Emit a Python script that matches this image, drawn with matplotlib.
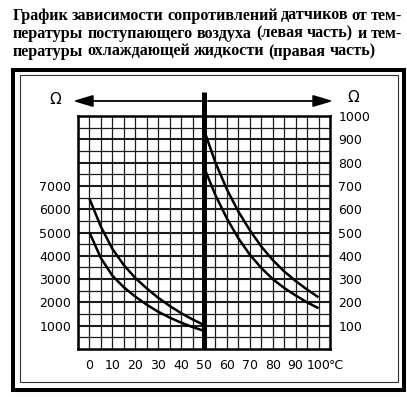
import matplotlib
matplotlib.use('Agg')
import matplotlib.pyplot as plt
import matplotlib.transforms as mtransforms
from matplotlib.patches import Rectangle, FancyArrowPatch

# ---------------- data ----------------
title_lines = [
    "График зависимости сопротивлений датчиков от тем-",
    "пературы поступающего воздуха (левая часть) и тем-",
    "пературы охлаждающей жидкости (правая часть)",
]

air_temp = [0, 5, 10, 15, 20, 25, 30, 35, 40, 45, 50]
air_r_high = [6450, 5250, 4300, 3600, 3050, 2600, 2200, 1850, 1540, 1270, 1030]
air_r_low = [5000, 3900, 3150, 2650, 2250, 1900, 1600, 1350, 1130, 940, 780]

cool_temp = [50, 55, 60, 65, 70, 75, 80, 85, 90, 95, 100]
cool_r_high = [940, 800, 685, 590, 510, 440, 382, 333, 292, 255, 222]
cool_r_low = [780, 660, 560, 475, 405, 348, 300, 262, 230, 200, 175]

x_ticks = [0, 10, 20, 30, 40, 50, 60, 70, 80, 90, 100]
x_labels = ["0", "10", "20", "30", "40", "50", "60", "70", "80", "90", "100"]
left_ticks = [1000, 2000, 3000, 4000, 5000, 6000, 7000]
right_ticks = [100, 200, 300, 400, 500, 600, 700, 800, 900, 1000]

# ---------------- layout ----------------
W, H = 407, 397
fig = plt.figure(figsize=(W / 100, H / 100), dpi=100)
fig.patch.set_facecolor('white')


def fx(px):
    return px / W


def fy(py):
    return 1 - py / H


L, R, T, B = 78, 330, 116, 349
ax = fig.add_axes([fx(L), fy(B), (R - L) / W, (B - T) / H])
ax.set_xlim(-5, 105)
ax.set_ylim(0, 10000)

gridc = '#1c1c1c'
ax.set_xticks(x_ticks)
ax.set_xticklabels(x_labels)
ax.set_xticks(list(range(-5, 106, 5)), minor=True)
ax.set_yticks(list(range(1000, 10000, 1000)))
ax.set_yticklabels([str(v) if v in left_ticks else '' for v in range(1000, 10000, 1000)])
ax.set_yticks(list(range(500, 10000, 1000)), minor=True)
ax.grid(which='major', axis='y', color=gridc, lw=1.5)
ax.grid(which='minor', axis='y', color=gridc, lw=0.9)
ax.grid(which='both', axis='x', color=gridc, lw=0.9)
ax.set_axisbelow(True)
ax.tick_params(which='both', length=0)
ax.tick_params(axis='x', pad=7, labelsize=9)
ax.tick_params(axis='y', pad=5, labelsize=9)
for s in ax.spines.values():
    s.set_linewidth(1.8)
    s.set_color('black')

ax.plot(air_temp, air_r_high, color='black', lw=1.8, solid_capstyle='butt')
ax.plot(air_temp, air_r_low, color='black', lw=1.8, solid_capstyle='butt')

ax2 = ax.twinx()
ax2.set_ylim(0, 1000)
ax2.set_yticks(right_ticks)
ax2.set_yticklabels([str(v) for v in right_ticks])
ax2.tick_params(length=0, pad=6, labelsize=9)
for s in ax2.spines.values():
    s.set_visible(False)
ax2.plot(cool_temp, cool_r_high, color='black', lw=1.8, solid_capstyle='butt')
ax2.plot(cool_temp, cool_r_low, color='black', lw=1.8, solid_capstyle='butt')

# degree sign after the 100 label, on the same text line as the tick labels
t1, va1, ha1 = ax.get_xaxis_text1_transform(7)
ax.text(100, 0, '°C', transform=t1 + mtransforms.ScaledTranslation(10.5 / 100, 0, fig.dpi_scale_trans),
        ha='left', va=va1, fontsize=9)

# central thick divider line
trans = mtransforms.blended_transform_factory(ax.transData, ax.transAxes)
ax.plot([50, 50], [0, 1 + (T - 92) / (B - T)], transform=trans, color='black',
        lw=3.6, clip_on=False, solid_capstyle='butt', zorder=5)

# arrows and Omega symbols
arrow_y = H - 101
for (x_start, x_end) in [(203, 73), (208, 333)]:
    fig.add_artist(FancyArrowPatch((x_start, arrow_y), (x_end, arrow_y), transform=None,
                                   arrowstyle='-|>,head_length=1.0,head_width=0.3',
                                   mutation_scale=12, lw=1.3, color='black',
                                   shrinkA=0, shrinkB=0))
fig.text(fx(55), fy(99), 'Ω', ha='center', va='center', fontsize=11)
fig.text(fx(353), fy(98), 'Ω', ha='center', va='center', fontsize=11)

# frames
fig.add_artist(Rectangle((fx(13.5), fy(390)), fx(404) - fx(13.5), fy(70) - fy(390),
                         transform=fig.transFigure, fill=False, lw=2.9, color='black'))
fig.add_artist(Rectangle((fx(19.5), fy(382)), fx(398) - fx(19.5), fy(75.5) - fy(382),
                         transform=fig.transFigure, fill=False, lw=0.8, color='#333333'))

# title (justified lines)
r = fig.canvas.get_renderer()
tfont = dict(family='Liberation Serif', weight='bold')
probe = fig.text(0, 0, title_lines[2], fontsize=10, **tfont)
w10 = probe.get_window_extent(renderer=r).width
probe.remove()
fs = 10 * (378 - 13) / w10
x0, x1 = 13, 402
baselines = [19.5, 37.5, 55.5]
for i, line in enumerate(title_lines):
    words = line.split(' ')
    ts, widths = [], []
    for w in words:
        t = fig.text(0, 0, w, fontsize=fs, va='baseline', ha='left', **tfont)
        widths.append(t.get_window_extent(renderer=r).width)
        ts.append(t)
    if i < 2:
        gap = (x1 - x0 - sum(widths)) / (len(words) - 1)
    else:
        sp = fig.text(0, 0, 'a a', fontsize=fs, **tfont)
        sa = fig.text(0, 0, 'aa', fontsize=fs, **tfont)
        gap = sp.get_window_extent(renderer=r).width - sa.get_window_extent(renderer=r).width
        sp.remove(); sa.remove()
    x = x0
    for t, w in zip(ts, widths):
        t.set_position((fx(x), fy(baselines[i])))
        x += w + gap

fig.savefig('out.png', dpi=100)
